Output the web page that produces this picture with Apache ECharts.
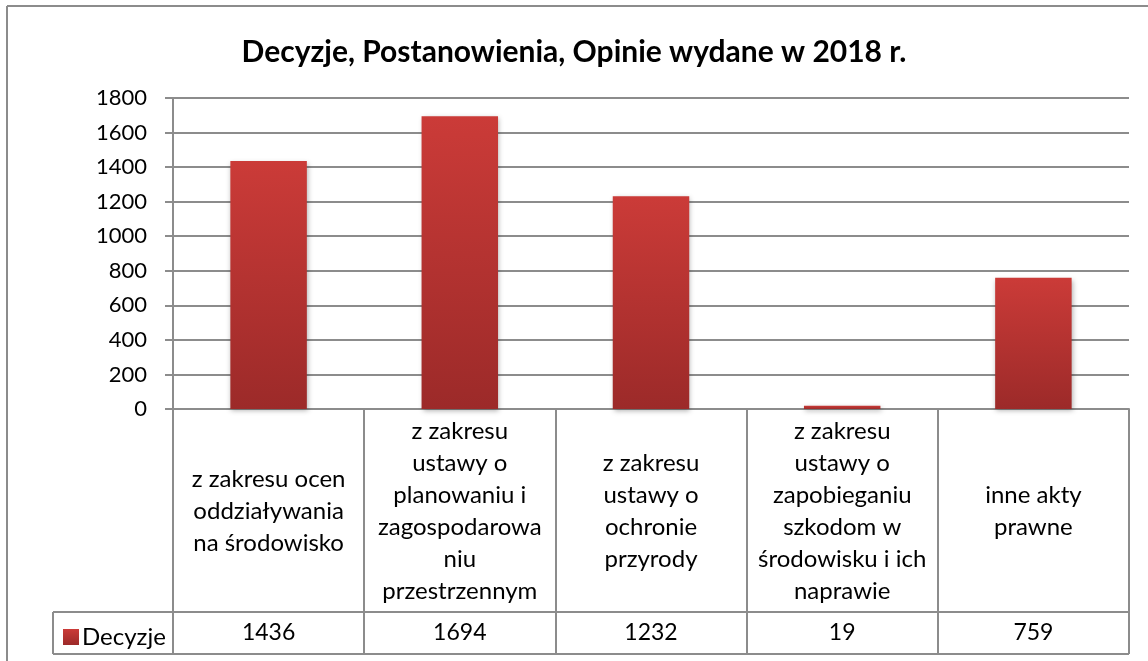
<!DOCTYPE html>
<html lang="pl">
<head>
    <meta charset="UTF-8">
    <title>Decyzje 2018</title>
    <script src="https://cdn.jsdelivr.net/npm/echarts@6/dist/echarts.min.js"></script>
    <style>
        html, body { margin: 0; padding: 0; background: #fff; }
        #chart { width: 1148px; height: 661px; }
    </style>
</head>
<body>
<div id="chart"></div>
<script type="text/javascript">
    // dane z wykresu
    var tytul = 'Decyzje, Postanowienia, Opinie wydane w 2018 r.';
    var kategorie = [
        'z zakresu ocen\noddziaływania\nna środowisko',
        'z zakresu\nustawy o\nplanowaniu i\nzagospodarowa\nniu\nprzestrzennym',
        'z zakresu\nustawy o\nochronie\nprzyrody',
        'z zakresu\nustawy o\nzapobieganiu\nszkodom w\nśrodowisku i ich\nnaprawie',
        'inne akty\nprawne'
    ];
    var nazwaSerii = 'Decyzje';
    var wartosci = [1436, 1694, 1232, 19, 759];
    var osY = [0, 200, 400, 600, 800, 1000, 1200, 1400, 1600, 1800];

    var font = 'Lato';
    var szary = '#8c8c8c';

    var myChart = echarts.init(document.getElementById('chart'));
    var option = {
        backgroundColor: '#fff',
        animation: false,
        textStyle: { fontFamily: font, color: '#000' },
        title: {
            text: tytul,
            left: 'center',
            top: 32,
            textStyle: { fontFamily: font, fontSize: 30, fontWeight: 'bold', color: '#000' }
        },
        legend: {
            data: [{ name: nazwaSerii, icon: 'rect' }],
            left: 58,
            top: 620,
            itemWidth: 16,
            itemHeight: 16,
            itemGap: 6,
            textStyle: { fontFamily: font, fontSize: 24, color: '#000', padding: [0, 0, 0, -2] }
        },
        grid: { left: 173, right: 19, top: 98, bottom: 252, containLabel: false },
        xAxis: [{
            type: 'category',
            data: kategorie,
            axisLine: { show: true, lineStyle: { color: szary, width: 2 } },
            axisTick: { show: true, length: 245, lineStyle: { color: szary, width: 2 } },
            axisLabel: {
                interval: 0,
                margin: 102,
                verticalAlign: 'middle',
                align: 'center',
                fontFamily: font,
                fontSize: 24,
                lineHeight: 32,
                color: '#000'
            }
        }, {
            type: 'category',
            data: kategorie,
            position: 'bottom',
            offset: 203,
            axisLine: { show: true, lineStyle: { color: szary, width: 2 } },
            axisTick: { show: false },
            axisLabel: {
                interval: 0,
                margin: 21,
                verticalAlign: 'middle',
                fontFamily: font,
                fontSize: 23,
                color: '#000',
                formatter: function (v, i) { return String(wartosci[i]); }
            }
        }],
        yAxis: {
            type: 'value',
            min: osY[0],
            max: osY[osY.length - 1],
            interval: osY[1] - osY[0],
            axisLine: { show: true, lineStyle: { color: szary, width: 2 } },
            axisTick: { show: true, length: 8, lineStyle: { color: szary, width: 2 } },
            axisLabel: {
                margin: 26, fontFamily: font, fontSize: 22, color: '#000',
                formatter: function (v) { return String(v); }
            },
            splitLine: { show: true, lineStyle: { color: szary, width: 2 } }
        },
        series: [{
            name: nazwaSerii,
            type: 'bar',
            data: wartosci,
            barWidth: '40%',
            itemStyle: {
                color: new echarts.graphic.LinearGradient(0, 0, 0, 1, [
                    { offset: 0, color: '#cb3b38' },
                    { offset: 1, color: '#9c2a29' }
                ]),
                shadowBlur: 5,
                shadowColor: 'rgba(0,0,0,0.3)',
                shadowOffsetX: 1,
                shadowOffsetY: 2
            }
        }],
        graphic: [
            // ramka wykresu
            { type: 'line', shape: { x1: 7, y1: 6, x2: 1148, y2: 6 }, style: { stroke: szary, lineWidth: 2 } },
            { type: 'line', shape: { x1: 7, y1: 6, x2: 7, y2: 661 }, style: { stroke: szary, lineWidth: 2 } },
            // komórka legendy w tabeli danych
            { type: 'line', shape: { x1: 53, y1: 612, x2: 173, y2: 612 }, style: { stroke: szary, lineWidth: 2 } },
            { type: 'line', shape: { x1: 53, y1: 654, x2: 1129, y2: 654 }, style: { stroke: szary, lineWidth: 2 } },
            { type: 'line', shape: { x1: 53, y1: 612, x2: 53, y2: 654 }, style: { stroke: szary, lineWidth: 2 } }
        ]
    };
    myChart.setOption(option);
</script>
</body>
</html>
